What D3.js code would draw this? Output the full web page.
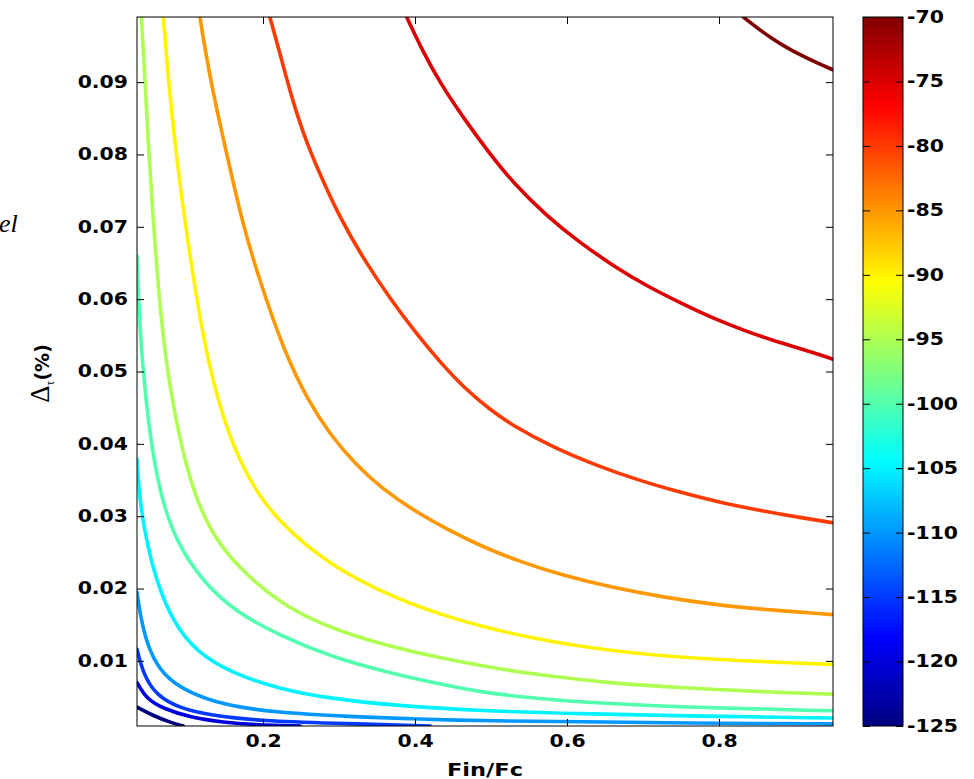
<!DOCTYPE html>
<html lang="en">
<head>
  <meta charset="UTF-8">
  <title>Contour map</title>
  <style>
    body { margin: 0; background: #fff; }
    svg { display: block; }
    .tick text { font-family: "DejaVu Sans", sans-serif; font-weight: bold; font-size: 17px; fill: #000; }
  </style>
</head>
<body>
<script src="https://d3js.org/d3.v7.min.js"></script>
<script>
  // contour levels (colour value) and the points of each line [Fin/Fc, delta]
  const levels = [-70, -75, -80, -85, -90, -95, -100, -105, -110, -115, -120, -125];

  const c70 = [[0.832,0.0990],[0.850,0.0975],[0.870,0.0960],[0.890,0.0947],[0.910,0.0936],[0.930,0.0926],[0.950,0.0917]];
  const c75 = [[0.389,0.099],[0.411,0.0941],[0.433,0.0899],[0.464,0.0850],[0.499,0.0800],[0.529,0.0761],[0.573,0.0715],
    [0.617,0.0678],[0.661,0.0646],[0.705,0.0618],[0.749,0.0595],[0.793,0.0573],[0.837,0.0555],[0.880,0.0540],[0.924,0.0526],[0.950,0.0517]];
  const c80 = [[0.209,0.099],[0.222,0.0941],[0.236,0.0885],[0.253,0.0828],[0.275,0.0772],[0.301,0.0713],[0.332,0.0656],
    [0.367,0.0601],[0.402,0.0552],[0.433,0.0513],[0.464,0.0478],[0.499,0.0447],[0.529,0.0425],[0.582,0.0395],[0.639,0.0370],
    [0.696,0.0349],[0.749,0.0333],[0.801,0.0319],[0.858,0.0307],[0.907,0.0298],[0.950,0.0291]];
  const c85 = [[0.117,0.099],[0.126,0.0931],[0.139,0.0862],[0.157,0.0779],[0.174,0.0701],[0.196,0.0625],[0.214,0.0570],
    [0.231,0.0522],[0.258,0.0462],[0.288,0.0413],[0.323,0.0370],[0.358,0.0337],[0.398,0.0308],[0.442,0.0282],[0.486,0.0259],
    [0.538,0.0237],[0.595,0.0218],[0.661,0.0201],[0.727,0.0188],[0.793,0.0178],[0.858,0.0171],[0.950,0.0164]];
  const c90 = [[0.069,0.099],[0.075,0.0908],[0.084,0.0816],[0.095,0.0724],[0.108,0.0632],[0.119,0.0563],[0.130,0.0505],
    [0.148,0.0434],[0.170,0.0374],[0.200,0.0319],[0.236,0.0278],[0.279,0.0241],[0.323,0.0213],[0.376,0.0186],[0.437,0.0163],
    [0.486,0.0148],[0.551,0.0132],[0.617,0.0120],[0.683,0.0111],[0.749,0.0105],[0.815,0.0101],[0.880,0.0098],[0.950,0.0095]];
  const c95 = [[0.040,0.099],[0.0445,0.0908],[0.049,0.0816],[0.0545,0.0724],[0.061,0.0632],[0.067,0.0563],[0.074,0.0503],
    [0.085,0.0434],[0.100,0.0365],[0.117,0.0310],[0.143,0.0259],[0.179,0.0218],[0.222,0.0181],[0.271,0.0153],[0.332,0.0130],
    [0.398,0.0112],[0.464,0.0098],[0.499,0.0091],[0.573,0.0079],[0.661,0.0069],[0.749,0.0063],[0.837,0.0058],[0.950,0.0054]];
  const c100 = [[0.0342,0.0660],[0.036,0.0609],[0.038,0.0563],[0.042,0.0503],[0.051,0.0411],[0.065,0.0328],[0.086,0.0264],
    [0.121,0.0209],[0.165,0.0167],[0.222,0.0135],[0.288,0.0106],[0.367,0.0083],[0.442,0.0066],[0.486,0.0057],[0.550,0.0049],
    [0.617,0.0043],[0.749,0.0036],[0.950,0.0031]];
  const c105 = [[0.0342,0.0379],[0.038,0.0319],[0.047,0.0264],[0.060,0.0209],[0.082,0.0153],[0.113,0.0112],[0.157,0.0084],
    [0.222,0.0061],[0.288,0.0048],[0.376,0.0038],[0.486,0.0031],[0.617,0.0027],[0.749,0.0024],[0.950,0.0021]];
  const c110 = [[0.0342,0.0195],[0.040,0.0153],[0.051,0.0112],[0.069,0.0080],[0.100,0.0057],[0.148,0.0039],[0.214,0.0029],
    [0.310,0.0023],[0.420,0.0019],[0.499,0.0017],[0.617,0.0016],[0.749,0.0014],[0.950,0.0013]];
  const c115 = [[0.0342,0.0116],[0.043,0.0080],[0.060,0.0052],[0.091,0.0034],[0.135,0.0024],[0.200,0.0017],[0.288,0.0014],[0.420,0.0010]];
  const c120 = [[0.0342,0.0070],[0.047,0.0047],[0.069,0.0034],[0.104,0.0022],[0.148,0.0015],[0.192,0.00115],[0.249,0.0010]];
  const c125 = [[0.0342,0.0036],[0.056,0.0024],[0.078,0.0015],[0.095,0.0010]];

  const lines = [c70, c75, c80, c85, c90, c95, c100, c105, c110, c115, c120, c125];

  const xTicks = [0.2, 0.4, 0.6, 0.8];
  const yTicks = [0.01, 0.02, 0.03, 0.04, 0.05, 0.06, 0.07, 0.08, 0.09];
  const cbTicks = [-70, -75, -80, -85, -90, -95, -100, -105, -110, -115, -120, -125];

  const width = 974, height = 779;
  const plot = { left: 137, right: 833, top: 17, bottom: 726 };
  const cbar = { left: 863, right: 903 };

  const svg = d3.select('body').append('svg')
    .attr('width', width)
    .attr('height', height);

  svg.append('rect').attr('width', width).attr('height', height).attr('fill', '#fff');

  const x = d3.scaleLinear().domain([0.0342, 0.95]).range([plot.left, plot.right]);
  const y = d3.scaleLinear().domain([0.001, 0.099]).range([plot.bottom, plot.top]);
  const cb = d3.scaleLinear().domain([-125, -70]).range([plot.bottom, plot.top]);

  // matlab jet colormap
  function jet(t) {
    const c = v => Math.max(0, Math.min(1, v)) * 255;
    return d3.rgb(c(1.5 - Math.abs(4 * t - 3)), c(1.5 - Math.abs(4 * t - 2)), c(1.5 - Math.abs(4 * t - 1))).formatHex();
  }
  const colorOf = v => jet((v - cb.domain()[0]) / (cb.domain()[1] - cb.domain()[0]));

  // stretch text horizontally (the original picture is squeezed wider)
  function stretch(sel, k) {
    sel.each(function() {
      const w = this.getComputedTextLength();
      d3.select(this).attr('textLength', w * k).attr('lengthAdjust', 'spacingAndGlyphs');
    });
  }

  svg.append('clipPath').attr('id', 'clip')
    .append('rect')
    .attr('x', plot.left).attr('y', plot.top)
    .attr('width', plot.right - plot.left).attr('height', plot.bottom - plot.top);

  const line = d3.line()
    .x(d => x(d[0]))
    .y(d => y(d[1]))
    .curve(d3.curveBasis);

  svg.append('g')
    .attr('clip-path', 'url(#clip)')
    .selectAll('path')
    .data(lines)
    .enter()
    .append('path')
    .attr('d', line)
    .attr('fill', 'none')
    .attr('stroke', (d, i) => colorOf(levels[i]))
    .attr('stroke-width', 3.6)
    .attr('stroke-linejoin', 'round')
    .attr('stroke-linecap', 'round');

  // axes, ticks pointing inside like matlab
  const gx = svg.append('g')
    .attr('transform', 'translate(0,' + plot.bottom + ')')
    .call(d3.axisBottom(x).tickValues(xTicks).tickFormat(d3.format('.1f')).tickSizeInner(-7).tickSizeOuter(0).tickPadding(9));
  const gy = svg.append('g')
    .attr('transform', 'translate(' + plot.left + ',0)')
    .call(d3.axisLeft(y).tickValues(yTicks).tickFormat(d3.format('.2f')).tickSizeInner(-7).tickSizeOuter(0).tickPadding(9));
  svg.append('g')
    .attr('transform', 'translate(0,' + plot.top + ')')
    .call(d3.axisTop(x).tickValues(xTicks).tickFormat('').tickSizeInner(-7).tickSizeOuter(0));
  svg.append('g')
    .attr('transform', 'translate(' + plot.right + ',0)')
    .call(d3.axisRight(y).tickValues(yTicks).tickFormat('').tickSizeInner(-7).tickSizeOuter(0));

  svg.selectAll('.domain').remove();
  stretch(gx.selectAll('text'), 1.2);
  stretch(gy.selectAll('text'), 1.2);

  svg.append('rect')
    .attr('x', plot.left).attr('y', plot.top)
    .attr('width', plot.right - plot.left).attr('height', plot.bottom - plot.top)
    .attr('fill', 'none').attr('stroke', '#000').attr('stroke-width', 1);

  // colorbar
  const grad = svg.append('defs').append('linearGradient')
    .attr('id', 'jet').attr('x1', 0).attr('y1', 1).attr('x2', 0).attr('y2', 0);
  d3.range(0, 1.0001, 1 / 32).forEach(t => {
    grad.append('stop').attr('offset', t).attr('stop-color', jet(t));
  });

  svg.append('rect')
    .attr('x', cbar.left).attr('y', plot.top)
    .attr('width', cbar.right - cbar.left).attr('height', plot.bottom - plot.top)
    .attr('fill', 'url(#jet)');

  const gcb = svg.append('g')
    .attr('transform', 'translate(' + cbar.right + ',0)')
    .call(d3.axisRight(cb).tickValues(cbTicks).tickFormat(d => String(d)).tickSizeInner(-7).tickSizeOuter(0).tickPadding(4));
  svg.append('g')
    .attr('transform', 'translate(' + cbar.left + ',0)')
    .call(d3.axisLeft(cb).tickValues(cbTicks).tickFormat('').tickSizeInner(-7).tickSizeOuter(0));
  svg.selectAll('.domain').remove();
  stretch(gcb.selectAll('text'), 1.2);

  svg.append('rect')
    .attr('x', cbar.left).attr('y', plot.top)
    .attr('width', cbar.right - cbar.left).attr('height', plot.bottom - plot.top)
    .attr('fill', 'none').attr('stroke', '#000').attr('stroke-width', 1);

  // axis labels
  const xl = svg.append('text')
    .attr('x', (plot.left + plot.right) / 2)
    .attr('y', 776)
    .attr('text-anchor', 'middle')
    .style('font-family', '"DejaVu Sans", sans-serif')
    .style('font-weight', 'bold')
    .style('font-size', '18px')
    .text('Fin/Fc');
  stretch(xl, 1.25);

  const yl = svg.append('text')
    .attr('transform', 'translate(49,' + ((plot.top + plot.bottom) / 2 + 2) + ') rotate(-90)')
    .attr('text-anchor', 'middle');
  yl.append('tspan')
    .style('font-family', '"Liberation Serif", serif')
    .style('font-size', '27px')
    .text('Δ');
  yl.append('tspan')
    .attr('dy', 5)
    .style('font-family', '"Liberation Serif", serif')
    .style('font-size', '12px')
    .text('τ');
  yl.append('tspan')
    .attr('dy', -5)
    .style('font-family', '"DejaVu Sans", sans-serif')
    .style('font-weight', 'bold')
    .style('font-size', '19px')
    .text('(%)');

  // stray label cut by the page edge
  svg.append('text')
    .attr('x', -1)
    .attr('y', 232)
    .style('font-family', '"Liberation Serif", serif')
    .style('font-style', 'italic')
    .style('font-size', '26px')
    .text('el');
</script>
</body>
</html>
